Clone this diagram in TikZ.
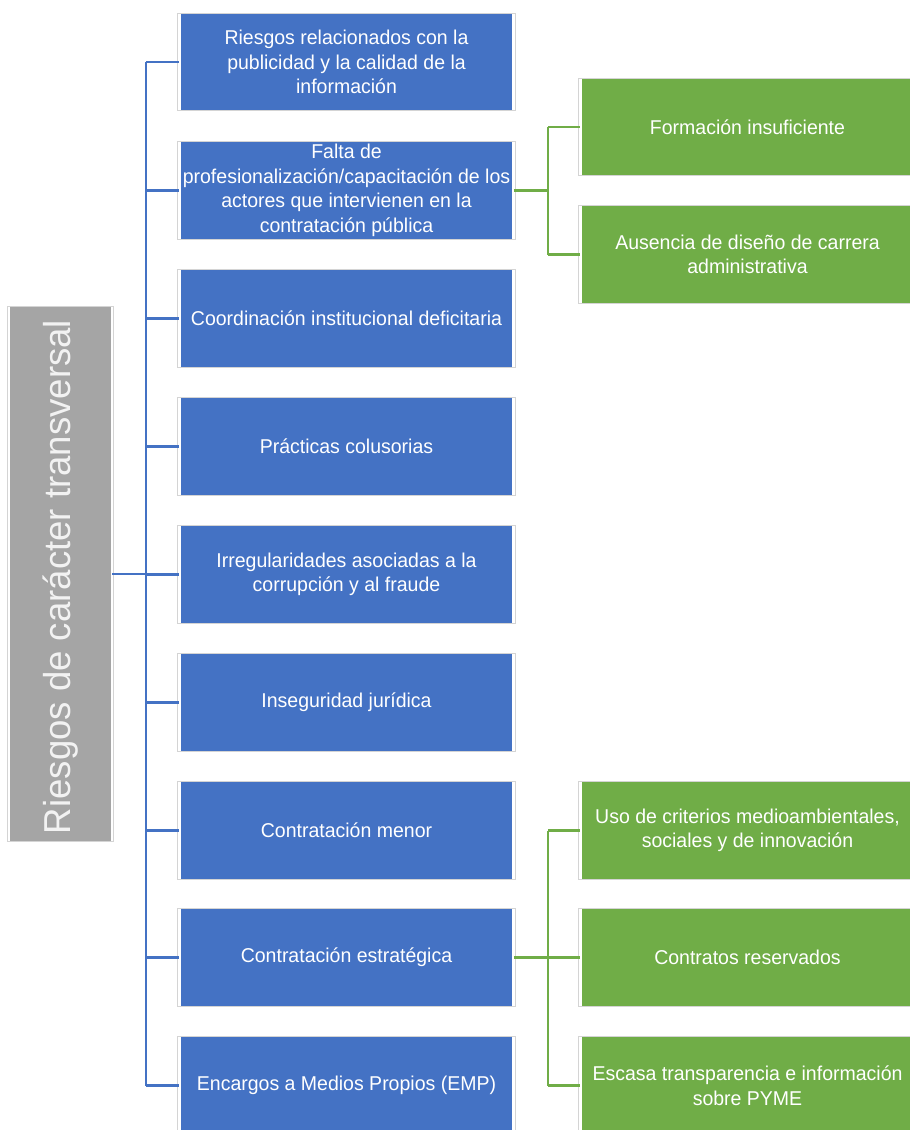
\documentclass[tikz,border=0pt]{standalone}
\usepackage{fontspec}
\setmainfont{Liberation Sans}[FakeStretch=0.975]
\definecolor{bblue}{HTML}{4472C4}
\definecolor{bgreen}{HTML}{70AD47}
\definecolor{bgray}{HTML}{A5A5A5}
\definecolor{bline}{HTML}{D4D4D4}
\begin{document}
\begin{tikzpicture}[x=1pt,y=-1pt,
  bluebox/.style={minimum width=333pt, minimum height=99pt, inner sep=0pt, fill=bblue, draw=white, line width=1.5pt, text=white, align=center, font=\fontsize{20}{24.5}\selectfont},
  greenbox/.style={bluebox, fill=bgreen},
  bconn/.style={draw=bblue, line width=2.3pt},
  gconn/.style={draw=bgreen, line width=2.3pt},
  outl/.style={draw=bline, line width=0.8pt}]
\useasboundingbox (0,0) rectangle (910,1130);
\fill[white] (0,0) rectangle (910,1130);
% left gray box
\node[minimum width=102pt, minimum height=536pt, inner sep=0pt, fill=bgray, draw=white, line width=1.5pt] (root) at (60.5,574) {};
\node[rotate=90, text=white!95!black, font=\fontsize{37.5}{40}\selectfont, inner sep=0pt] (roottxt) at (61,577) {Riesgos de carácter transversal};
% blue boxes
\node[bluebox] (b1) at (346.5,62) {Riesgos relacionados con la\\publicidad y la calidad de la\\información};
\node[bluebox] (b2) at (346.5,190.5) {Falta de\\profesionalización/capacitación de los\\actores que intervienen en la\\contratación pública};
\node[bluebox] (b3) at (346.5,318.5) {Coordinación institucional deficitaria};
\node[bluebox] (b4) at (346.5,446.5) {Prácticas colusorias};
\node[bluebox] (b5) at (346.5,574.5) {Irregularidades asociadas a la\\corrupción y al fraude};
\node[bluebox] (b6) at (346.5,702.5) {Inseguridad jurídica};
\node[bluebox] (b7) at (346.5,830.5) {Contratación menor};
\node[bluebox] (b8) at (346.5,957.5) {Contratación estratégica};
\node[bluebox] (b9) at (346.5,1085.5) {Encargos a Medios Propios (EMP)};
% green boxes
\node[greenbox] (g1) at (747.5,127) {Formación insuficiente};
\node[greenbox] (g2) at (747.5,254.5) {Ausencia de diseño de carrera\\administrativa};
\node[greenbox] (g3) at (747.5,830.5) {Uso de criterios medioambientales,\\sociales y de innovación};
\node[greenbox] (g4) at (747.5,957.5) {Contratos reservados};
\node[greenbox] (g5) at (747.5,1085.5) {Escasa transparencia e información\\sobre PYME};
% outlines
\foreach \n in {root,b1,b2,b3,b4,b5,b6,b7,b8,b9,g1,g2,g3,g4,g5}
  \draw[outl] ([shift={(-1.5,1.5)}]\n.north west) rectangle ([shift={(1.5,-1.5)}]\n.south east);
% blue connectors
\coordinate (trunk) at (146,0);
\draw[bconn] (root.east) -- (root.east -| trunk);
\foreach \n in {b1,b2,b3,b4,b5,b6,b7,b8,b9}
  \draw[bconn] (\n.west -| trunk) -- (\n.west);
\draw[bconn] (b1.west -| trunk) -- (b9.west -| trunk);
% green connectors
\coordinate (gt) at (548,0);
\draw[gconn] (b2.east) -- (b2.east -| gt);
\draw[gconn] (g1.west -| gt) -- (g2.west -| gt);
\draw[gconn] (g1.west -| gt) -- (g1.west);
\draw[gconn] (g2.west -| gt) -- (g2.west);
\draw[gconn] (b8.east) -- (b8.east -| gt);
\draw[gconn] (g3.west -| gt) -- (g5.west -| gt);
\foreach \n in {g3,g4,g5}
  \draw[gconn] (\n.west -| gt) -- (\n.west);
\end{tikzpicture}
\end{document}
